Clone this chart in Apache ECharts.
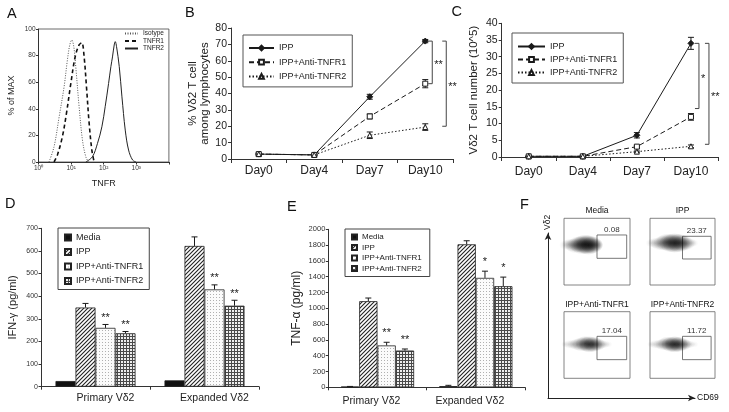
<!DOCTYPE html>
<html><head><meta charset="utf-8">
<script src="https://cdn.jsdelivr.net/npm/echarts@6/dist/echarts.min.js"></script>
<style>html,body{margin:0;padding:0;background:#fff}#c{width:729px;height:412px}</style>
</head><body><div id="c"></div>
<script>
// ================= DATA =================
// Panel A: histogram curves (TNFR fluorescence, % of MAX)
const aIsoX = [2.1, 3.0, 4.3, 6.1, 7.7, 9.1, 10.5, 12.1, 13.9, 17.6, 22.3, 28.2, 34];
const aIsoY = [0, 11.5, 34, 56.6, 76.7, 88, 91.7, 86.7, 71.6, 41.6, 16.5, 4, 0];
const aR1X = [3.0, 3.8, 5.4, 7.2, 9.8, 13.3, 17.6, 21.3, 25.1, 29.6, 35.8, 43.3, 51];
const aR1Y = [0, 5.3, 19, 36.6, 59, 79, 88, 89.7, 79, 56.6, 29, 9, 0];
const aR2X = [28.3, 45.2, 64.5, 88, 111, 141, 166, 186, 210, 226, 248, 300, 363, 458, 579, 769, 977];
const aR2Y = [0, 4, 14, 26.5, 41.6, 59, 71.7, 79, 88, 90.5, 86.7, 71.7, 49, 24, 9, 1.5, 0];
const aXTicks = ['10\u2070', '10\u00b9', '10\u00b2', '10\u00b3'];
const aLegend = ['Isotype', 'TNFR1', 'TNFR2'];

// Panels B, C: time course
const days = ['Day0', 'Day4', 'Day7', 'Day10'];
const lineNames = ['IPP', 'IPP+Anti-TNFR1', 'IPP+Anti-TNFR2'];
const bIPP = [3, 2.5, 38, 72];     const bIPPErr = [0.6, 0.5, 1.5, 1];
const bT1 = [3, 2.5, 26, 46];      const bT1Err = [0.5, 0.5, 1.5, 2.5];
const bT2 = [3, 2.5, 14.5, 19.5];  const bT2Err = [0.5, 0.5, 2, 2];
const bBrackets = [[3, 72, 46], [3, 72, 20]];
const bBracketStars = ['**', '**'];
const cIPP = [0.2, 0.2, 6.5, 34];  const cIPPErr = [0.2, 0.2, 0.8, 1.8];
const cT1 = [0.2, 0.2, 3.1, 12];   const cT1Err = [0.1, 0.1, 0.3, 1];
const cT2 = [0.2, 0.2, 1.6, 3.2];  const cT2Err = [0.1, 0.1, 0.2, 0.4];
const cBrackets = [[3, 34, 14.5], [3, 34, 3.8]];
const cBracketStars = ['*', '**'];

// Panels D, E: cytokines
const groups = ['Primary V\u03b42', 'Expanded V\u03b42'];
const treatments = ['Media', 'IPP', 'IPP+Anti-TNFR1', 'IPP+Anti-TNFR2'];
const dMedia = [25, 28];   const dMediaErr = [0, 0];
const dIPP = [350, 622];   const dIPPErr = [18, 40];
const dT1 = [260, 430];    const dT1Err = [15, 20];
const dT2 = [236, 358];    const dT2Err = [8, 24];
const dStars = [['', ''], ['', ''], ['**', '**'], ['**', '**']];
const eMedia = [8, 15];    const eMediaErr = [3, 10];
const eIPP = [1090, 1810]; const eIPPErr = [40, 45];
const eT1 = [530, 1385];   const eT1Err = [40, 85];
const eT2 = [465, 1280];   const eT2Err = [20, 115];
const eStars = [['', ''], ['', ''], ['**', '*'], ['**', '*']];

// Panel F: flow plots (CD69 vs Vd2), coordinates in % of plot box
const fTitles = ['Media', 'IPP', 'IPP+Anti-TNFR1', 'IPP+Anti-TNFR2'];
const fPercents = ['0.08', '23.37', '17.04', '11.72'];
const fGates = [[50, 40, 95, 75], [50, 39, 94, 73], [50, 28, 95, 63], [50, 28, 94, 63]];
// [x, y, blob size, density]
const fClouds = [
  [[2,60,9,0.12],[7,61,10,0.18],[12,60,12,0.25],[17,59,14,0.35],[22,61,15,0.45],[27,60,17,0.6],[32,61,18,0.75],[37,60,18,0.8],[42,60,16,0.7],[47,60,12,0.4],[51,60,8,0.15]],
  [[2,63,8,0.12],[8,63,10,0.18],[14,62,12,0.25],[20,63,14,0.35],[26,64,16,0.5],[32,63,17,0.65],[38,63,18,0.75],[44,63,17,0.7],[50,63,15,0.5],[56,62,12,0.3],[62,63,9,0.18],[67,63,7,0.1]],
  [[2,51,6,0.1],[8,51,8,0.15],[14,51,9,0.2],[20,51,11,0.28],[26,51,13,0.4],[32,52,14,0.6],[38,51,15,0.75],[44,51,14,0.7],[50,51,12,0.45],[56,51,9,0.25],[62,51,7,0.15],[67,51,6,0.08]],
  [[2,51,6,0.1],[8,51,8,0.15],[14,51,9,0.2],[20,51,11,0.3],[26,52,13,0.45],[32,51,14,0.65],[38,51,15,0.8],[44,51,14,0.7],[50,51,12,0.45],[56,51,9,0.28],[62,51,7,0.15],[68,51,6,0.08]]
];

// ================= STYLE HELPERS =================
const FONT = 'Liberation Sans, Arial, Helvetica, sans-serif';
const INK = '#1a1a1a';
const AXC = '#333';

function pattern(w, h, draw) {
  const c = document.createElement('canvas');
  c.width = w; c.height = h;
  draw(c.getContext('2d'));
  return { image: c, repeat: 'repeat' };
}
const patHatch = pattern(4, 4, g => {
  g.fillStyle = '#fff'; g.fillRect(0, 0, 4, 4);
  g.strokeStyle = '#222'; g.lineWidth = 1.1; g.beginPath();
  g.moveTo(-1, 5); g.lineTo(5, -1); g.moveTo(-1, 1); g.lineTo(1, -1); g.moveTo(3, 5); g.lineTo(5, 3); g.stroke();
});
const patDots = pattern(3, 3, g => {
  g.fillStyle = '#fbfbfb'; g.fillRect(0, 0, 3, 3);
  g.fillStyle = '#b0b0b0'; g.fillRect(0, 0, 1, 1);
});
const patGrid = pattern(3, 3, g => {
  g.fillStyle = '#efefef'; g.fillRect(0, 0, 3, 3);
  g.fillStyle = '#4a4a4a'; g.fillRect(0, 0, 3, 1); g.fillRect(0, 0, 1, 3);
});
const barFills = ['#111', patHatch, patDots, patGrid];

const strip = n => n.split('|')[1];

// ================= RENDERERS =================
function errRender(params, api) {
  const i = api.value(0), m = api.value(1), e = api.value(2);
  if (!(e > 0)) return null;
  const t = api.coord([i, m + e]), b = api.coord([i, m - e]);
  const st = { stroke: INK, lineWidth: 1 };
  return { type: 'group', children: [
    { type: 'line', shape: { x1: t[0], y1: t[1], x2: b[0], y2: b[1] }, style: st },
    { type: 'line', shape: { x1: t[0] - 3, y1: t[1], x2: t[0] + 3, y2: t[1] }, style: st },
    { type: 'line', shape: { x1: b[0] - 3, y1: b[1], x2: b[0] + 3, y2: b[1] }, style: st }
  ]};
}
function bracketRender(offsets, stars) {
  return function (params, api) {
    const i = api.value(0), top = api.value(1), bot = api.value(2);
    const p1 = api.coord([i, top]), p2 = api.coord([i, bot]);
    const x = p1[0] + offsets[params.dataIndex];
    return { type: 'group', children: [
      { type: 'polyline', shape: { points: [[x - 4, p1[1]], [x, p1[1]], [x, p2[1]], [x - 4, p2[1]]] },
        style: { stroke: '#444', lineWidth: 1, fill: null } },
      { type: 'text', x: x + 2, y: (p1[1] + p2[1]) / 2 + 3,
        style: { text: stars[params.dataIndex], fontSize: 11, fontFamily: FONT, fill: INK, align: 'left', verticalAlign: 'middle' } }
    ]};
  };
}
function barErrRender(bw, gap, stars) {
  return function (params, api) {
    const g = api.value(0), v = api.value(1), e = api.value(2), k = api.value(3);
    const x = api.coord([g, 0])[0] + (k - 1.5) * bw;
    const yv = api.coord([g, v])[1], yt = api.coord([g, v + e])[1];
    const ch = [];
    const st = { stroke: INK, lineWidth: 1 };
    if (e > 0) {
      ch.push({ type: 'line', shape: { x1: x, y1: yv, x2: x, y2: yt }, style: st });
      ch.push({ type: 'line', shape: { x1: x - 3, y1: yt, x2: x + 3, y2: yt }, style: st });
    }
    const s = stars[params.dataIndex];
    if (s) ch.push({ type: 'text', x: x, y: yt - gap,
      style: { text: s, fontSize: 11, fontFamily: FONT, fill: INK, align: 'center', verticalAlign: 'bottom' } });
    return { type: 'group', children: ch };
  };
}

// ================= BUILD SERIES =================
const series = [];
// A
const zip = (xs, ys) => xs.map((x, i) => [x, ys[i]]);
[[aIsoX, aIsoY, [1, 1.5], 1, '#555'], [aR1X, aR1Y, [4, 3], 1.6, '#111'], [aR2X, aR2Y, 'solid', 1, '#222']].forEach((s, k) => {
  series.push({ name: 'A|' + aLegend[k], type: 'line', xAxisIndex: 0, yAxisIndex: 0, data: zip(s[0], s[1]),
    symbol: 'none', smooth: 0.35, lineStyle: { color: s[4], width: s[3], type: s[2] }, itemStyle: { color: s[4] } });
});
// B, C
const lineSty = [
  { symbol: 'diamond', symbolSize: 6, fill: INK, dash: 'solid' },
  { symbol: 'rect', symbolSize: 5, fill: '#fff', dash: [5, 3] },
  { symbol: 'triangle', symbolSize: 5, fill: '#fff', dash: [1.5, 2] }
];
function addTimePanel(prefix, idx, vals, errs, brackets, bstars, offsets) {
  vals.forEach((v, k) => {
    const s = lineSty[k];
    series.push({ name: prefix + '|' + lineNames[k], type: 'line', xAxisIndex: idx, yAxisIndex: idx, data: v,
      symbol: s.symbol, symbolSize: s.symbolSize, z: 3,
      itemStyle: { color: s.fill, borderColor: INK, borderWidth: 1 },
      lineStyle: { color: INK, width: 1, type: s.dash } });
    series.push({ type: 'custom', xAxisIndex: idx, yAxisIndex: idx, renderItem: errRender, z: 2, silent: true,
      data: v.map((m, i) => [i, m, errs[k][i]]) });
  });
  series.push({ type: 'custom', xAxisIndex: idx, yAxisIndex: idx, silent: true,
    renderItem: bracketRender(offsets, bstars), data: brackets });
}
addTimePanel('B', 1, [bIPP, bT1, bT2], [bIPPErr, bT1Err, bT2Err], bBrackets, bBracketStars, [7, 21]);
addTimePanel('C', 2, [cIPP, cT1, cT2], [cIPPErr, cT1Err, cT2Err], cBrackets, cBracketStars, [8, 18]);
// D, E
function addBarPanel(prefix, idx, vals, errs, stars, bw, gap) {
  vals.forEach((v, k) => {
    series.push({ name: prefix + '|' + treatments[k], type: 'bar', xAxisIndex: idx, yAxisIndex: idx, data: v,
      barWidth: bw, barGap: '0%', itemStyle: { color: barFills[k], borderColor: '#222', borderWidth: 0.8 } });
  });
  const data = [], st = [];
  vals.forEach((v, k) => v.forEach((m, g) => { data.push([g, m, errs[k][g], k]); st.push(stars[k][g]); }));
  series.push({ type: 'custom', xAxisIndex: idx, yAxisIndex: idx, silent: true, z: 5,
    renderItem: barErrRender(bw, gap, st), data: data });
}
addBarPanel('D', 3, [dMedia, dIPP, dT1, dT2], [dMediaErr, dIPPErr, dT1Err, dT2Err], dStars, 20, 1);
addBarPanel('E', 4, [eMedia, eIPP, eT1, eT2], [eMediaErr, eIPPErr, eT1Err, eT2Err], eStars, 18.3, 4);
// F
fClouds.forEach((cloud, i) => {
  const g = fGates[i];
  series.push({ type: 'scatter', xAxisIndex: 5 + i, yAxisIndex: 5 + i, silent: true,
    data: cloud.map(p => ({ value: [p[0], p[1]], symbolSize: [p[2] * 1.4, p[2] * 1.1],
      itemStyle: { color: { type: 'radial', x: 0.5, y: 0.5, r: 0.5, colorStops: [
        { offset: 0, color: 'rgba(0,0,0,' + p[3] + ')' },
        { offset: 0.5, color: 'rgba(0,0,0,' + (p[3] * 0.5) + ')' },
        { offset: 1, color: 'rgba(0,0,0,0)' }] } } })),
    markArea: { silent: true, itemStyle: { color: 'rgba(0,0,0,0)', borderColor: '#555', borderWidth: 0.8 },
      label: { show: true, position: 'top', distance: 1, fontSize: 8, color: '#333', fontFamily: FONT, formatter: fPercents[i] },
      data: [[{ coord: [g[0], g[1]] }, { coord: [g[2], g[3]] }]] } });
});

// ================= AXES =================
const lineAx = { show: true, lineStyle: { color: AXC, width: 1 } };
const noSplit = { show: false };
const fBoxes = [[564, 218.3, 66, 66.7], [650, 218.3, 65, 66.7], [564, 311.7, 66, 66.6], [650, 311.7, 65, 66.6]];

const grid = [
  { left: 38.5, top: 29, width: 130.4, height: 133, show: true, borderColor: '#444', borderWidth: 0.8 },
  { left: 231, top: 28, width: 222, height: 131 },
  { left: 501.7, top: 23.3, width: 216.3, height: 133.7 },
  { left: 41, top: 228.3, width: 218, height: 158.4 },
  { left: 328.3, top: 229.3, width: 196.7, height: 158 }
].concat(fBoxes.map(b => ({ left: b[0], top: b[1], width: b[2], height: b[3], show: true, borderColor: '#666', borderWidth: 0.8 })))
 .concat([{ left: 548, top: 233, width: 147, height: 165 }]);

const plain = v => String(v);
const xAxis = [
  { gridIndex: 0, type: 'log', logBase: 10, min: 1, max: 10000, axisLine: lineAx, splitLine: noSplit,
    axisTick: { show: true, length: 2.5, lineStyle: { color: AXC } },
    axisLabel: { fontSize: 6.5, margin: 3, color: '#333', fontFamily: FONT,
      formatter: v => aXTicks[Math.round(Math.log10(v))] || '' },
    name: 'TNFR', nameLocation: 'middle', nameGap: 17, nameTextStyle: { fontSize: 9, color: '#222', fontFamily: FONT } },
  { gridIndex: 1, type: 'category', data: days, boundaryGap: true, axisLine: lineAx,
    axisTick: { show: true, length: 4, lineStyle: { color: AXC } },
    axisLabel: { fontSize: 12, margin: 6, color: '#222', fontFamily: FONT } },
  { gridIndex: 2, type: 'category', data: days, boundaryGap: true, axisLine: lineAx,
    axisTick: { show: true, length: 4, lineStyle: { color: AXC } },
    axisLabel: { fontSize: 12, margin: 9, color: '#222', fontFamily: FONT } },
  { gridIndex: 3, type: 'category', data: groups, axisLine: lineAx,
    axisTick: { show: true, length: 3, lineStyle: { color: AXC } },
    axisLabel: { fontSize: 10.5, margin: 6, color: '#222', fontFamily: FONT, padding: [0, 0, 0, 20] } },
  { gridIndex: 4, type: 'category', data: groups, axisLine: lineAx,
    axisTick: { show: true, length: 3, lineStyle: { color: AXC } },
    axisLabel: { fontSize: 10.5, margin: 8, color: '#222', fontFamily: FONT, padding: [0, 12, 0, 0] } }
].concat(fTitles.map((t, i) => ({ gridIndex: 5 + i, type: 'value', min: 0, max: 100, position: 'top',
    axisLine: { show: false }, axisTick: { show: false }, axisLabel: { show: false }, splitLine: noSplit,
    name: t, nameLocation: 'middle', nameGap: 3, nameTextStyle: { fontSize: 8.5, color: '#111', fontFamily: FONT } })))
 .concat([{ gridIndex: 9, type: 'value', min: 0, max: 100,
    axisLine: { show: true, symbol: ['none', 'arrow'], symbolSize: [5, 7], lineStyle: { color: '#222', width: 1 } },
    axisTick: { show: false }, axisLabel: { show: false }, splitLine: noSplit,
    name: 'CD69', nameLocation: 'end', nameGap: 2, nameTextStyle: { fontSize: 8.5, color: '#111', fontFamily: FONT } }]);

const yAxis = [
  { gridIndex: 0, type: 'value', min: 0, max: 100, interval: 20, axisLine: lineAx, splitLine: noSplit,
    axisTick: { show: true, length: 2.5, lineStyle: { color: AXC } },
    axisLabel: { fontSize: 6.5, margin: 3, color: '#333', fontFamily: FONT },
    name: '% of MAX', nameLocation: 'middle', nameGap: 22, nameTextStyle: { fontSize: 9, color: '#222', fontFamily: FONT } },
  { gridIndex: 1, type: 'value', min: 0, max: 80, interval: 10, axisLine: lineAx, splitLine: noSplit,
    axisTick: { show: true, length: 3, lineStyle: { color: AXC } },
    axisLabel: { fontSize: 10.5, margin: 4, color: '#222', fontFamily: FONT },
    name: '% V\u03b42 T cell\namong lymphocytes', nameLocation: 'middle', nameGap: 14,
    nameTextStyle: { fontSize: 11.5, lineHeight: 12.5, color: '#222', fontFamily: FONT } },
  { gridIndex: 2, type: 'value', min: 0, max: 40, interval: 5, axisLine: lineAx, splitLine: noSplit,
    axisTick: { show: true, length: 3, lineStyle: { color: AXC } },
    axisLabel: { fontSize: 10.5, margin: 4, color: '#222', fontFamily: FONT },
    name: 'V\u03b42 T cell number (10^5)', nameLocation: 'middle', nameGap: 22,
    nameTextStyle: { fontSize: 11.5, color: '#222', fontFamily: FONT } },
  { gridIndex: 3, type: 'value', min: 0, max: 700, interval: 100, axisLine: lineAx, splitLine: noSplit,
    axisTick: { show: true, length: 2.5, lineStyle: { color: AXC } },
    axisLabel: { fontSize: 7, margin: 3, color: '#333', fontFamily: FONT, formatter: plain },
    name: 'IFN-\u03b3 (pg/ml)', nameLocation: 'middle', nameGap: 23,
    nameTextStyle: { fontSize: 11, color: '#222', fontFamily: FONT } },
  { gridIndex: 4, type: 'value', min: 0, max: 2000, interval: 200, axisLine: lineAx, splitLine: noSplit,
    axisTick: { show: true, length: 2.5, lineStyle: { color: AXC } },
    axisLabel: { fontSize: 7.5, margin: 3, color: '#333', fontFamily: FONT, formatter: plain },
    name: 'TNF-\u03b1 (pg/ml)', nameLocation: 'middle', nameGap: 26,
    nameTextStyle: { fontSize: 12, color: '#222', fontFamily: FONT } }
].concat(fTitles.map((t, i) => ({ gridIndex: 5 + i, type: 'value', min: 0, max: 100, show: false })))
 .concat([{ gridIndex: 9, type: 'value', min: 0, max: 100,
    axisLine: { show: true, symbol: ['none', 'arrow'], symbolSize: [5, 7], lineStyle: { color: '#222', width: 1 } },
    axisTick: { show: false }, axisLabel: { show: false }, splitLine: noSplit,
    name: 'V\u03b42', nameLocation: 'end', nameGap: 3, nameRotate: 90,
    nameTextStyle: { fontSize: 8.5, color: '#111', fontFamily: FONT, align: 'left', verticalAlign: 'middle' } }]);

// ================= LEGENDS =================
const legTxt = s => ({ fontSize: s, color: '#222', fontFamily: FONT });
const legend = [
  { left: 124, top: 30, orient: 'vertical', selectedMode: false, formatter: strip, padding: 0,
    itemWidth: 13, itemHeight: 6, itemGap: 0.5, textStyle: legTxt(6.5), itemStyle: { opacity: 0 },
    data: aLegend.map(n => 'A|' + n) },
  { left: 243, top: 35, orient: 'vertical', selectedMode: false, formatter: strip, padding: [8.5, 6, 6, 5],
    borderColor: '#555', borderWidth: 1, itemWidth: 25, itemHeight: 6, itemGap: 5.2, textStyle: legTxt(9),
    data: lineNames.map(n => 'B|' + n) },
  { left: 512, top: 33, orient: 'vertical', selectedMode: false, formatter: strip, padding: [9, 6, 6, 5],
    borderColor: '#555', borderWidth: 1, itemWidth: 27, itemHeight: 6, itemGap: 4, textStyle: legTxt(9),
    data: lineNames.map(n => 'C|' + n) },
  { left: 58, top: 228, orient: 'vertical', selectedMode: false, formatter: strip, padding: [5, 6, 4, 6],
    borderColor: '#444', borderWidth: 1, itemWidth: 6, itemHeight: 6, itemGap: 5.5, icon: 'rect', textStyle: legTxt(9),
    data: treatments.map(n => 'D|' + n) },
  { left: 345, top: 229, orient: 'vertical', selectedMode: false, formatter: strip, padding: [4, 8, 4, 6],
    borderColor: '#444', borderWidth: 1, itemWidth: 5, itemHeight: 5, itemGap: 2.5, icon: 'rect', textStyle: legTxt(8),
    data: treatments.map(n => 'E|' + n) }
];

// ================= PANEL LETTERS =================
const letters = [['A', 7, 6.5], ['B', 185, 5.5], ['C', 451.5, 4.5], ['D', 5, 196.5], ['E', 287, 199], ['F', 520, 197.5]];
const graphic = letters.map(l => ({ type: 'text', left: l[1], top: l[2], silent: true,
  style: { text: l[0], fontSize: 14.5, fontFamily: FONT, fill: '#111' } }));

const option = {
  animation: false,
  backgroundColor: '#fff',
  textStyle: { fontFamily: FONT },
  grid, xAxis, yAxis, legend, series, graphic
};
const chart = echarts.init(document.getElementById('c'));
chart.setOption(option);
</script>
</body></html>
